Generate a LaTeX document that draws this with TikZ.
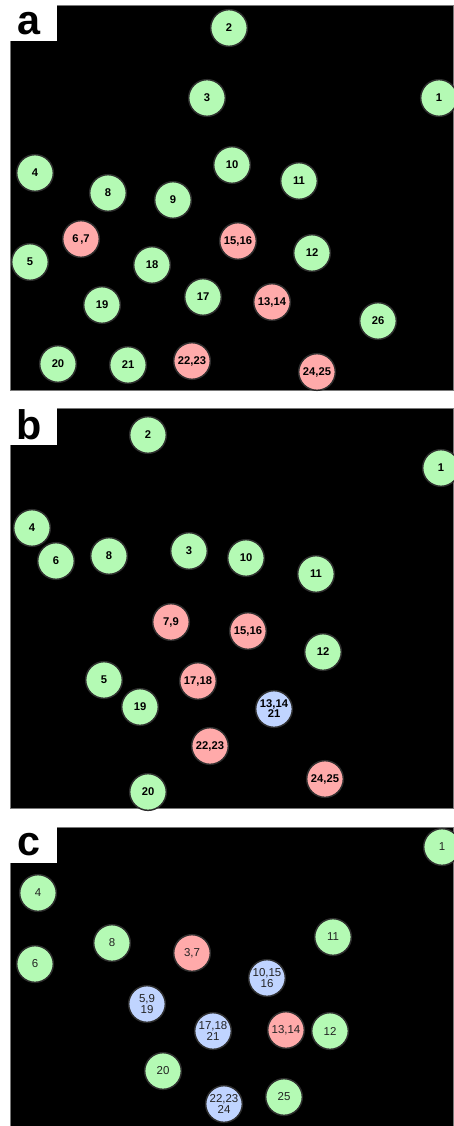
\documentclass[tikz,border=0pt]{standalone}
\usepackage{fontspec}
\setmainfont{Liberation Sans}
\definecolor{lgreen}{RGB}{180,250,180}
\definecolor{lpink}{RGB}{255,170,170}
\definecolor{lblue}{RGB}{192,212,255}
\definecolor{ring}{RGB}{45,45,45}
\tikzset{every picture/.style={line width=0.75pt}}
\tikzset{
  panel/.style={fill=black, draw={rgb,255:red,120;green,120;blue,120}, line width=0.6pt},
  tagbox/.style={fill=white, draw=none},
  tag/.style={anchor=center, inner sep=0pt, font=\fontsize{31}{31}\bfseries},
  spot/.style={circle, draw=ring, line width=1.1pt, minimum size=27.5pt, inner sep=0pt,
    align=center, font=\fontsize{8.4}{7.6}\bfseries},
  gspot/.style={spot, fill=lgreen},
  pspot/.style={spot, fill=lpink},
  bspot/.style={spot, fill=lblue},
  cspot/.style={font=\fontsize{8.6}{8.8}\selectfont, text={rgb,255:red,35;green,35;blue,35}}
}

\begin{document}
\begin{tikzpicture}[x=0.75pt,y=0.75pt,yscale=-1,xscale=1]
\useasboundingbox (0,0) rectangle (453,1126);

% Panel a
\draw [panel] (10,5) rectangle (453,390);
\fill [tagbox] (10,5) rectangle (57,41);
\node [tag] (la) at (29,24) {a};

\node [gspot] (a2) at (229,28) {2};
\node [gspot] (a3) at (207,98) {3};
\node [gspot] (a1) at (439,98) {1};
\node [gspot] (a4) at (35,173) {4};
\node [gspot] (a10) at (232,165) {10};
\node [gspot] (a11) at (299,181) {11};
\node [gspot] (a8) at (108,193) {8};
\node [gspot] (a9) at (173,200) {9};
\node [pspot] (a67) at (81,239) {6\,,7};
\node [pspot] (a1516) at (238,241) {15,16};
\node [gspot] (a5) at (30,262) {5};
\node [gspot] (a18) at (152,265) {18};
\node [gspot] (a12) at (312,253) {12};
\node [gspot] (a17) at (203,297) {17};
\node [pspot] (a1314) at (272,302) {13,14};
\node [gspot] (a19) at (102,305) {19};
\node [gspot] (a26) at (378,321) {26};
\node [gspot] (a20) at (58,364) {20};
\node [gspot] (a21) at (128,365) {21};
\node [pspot] (a2223) at (192,361) {22,23};
\node [pspot] (a2425) at (317,372) {24,25};

% Panel b
\draw [panel] (10,408) rectangle (453,808);
\fill [tagbox] (10,408) rectangle (57,445);
\node [tag] (lb) at (29,425) {b};

\node [gspot] (b2) at (148,435) {2};
\node [gspot] (b1) at (441,468) {1};
\node [gspot] (b4) at (32,528) {4};
\node [gspot] (b6) at (56,561) {6};
\node [gspot] (b8) at (109,556) {8};
\node [gspot] (b3) at (189,551) {3};
\node [gspot] (b10) at (246,558) {10};
\node [gspot] (b11) at (316,574) {11};
\node [pspot] (b79) at (171,622) {7,9};
\node [pspot] (b1516) at (248,631) {15,16};
\node [gspot] (b12) at (323,652) {12};
\node [gspot] (b5) at (104,680) {5};
\node [pspot] (b1718) at (198,681) {17,18};
\node [gspot] (b19) at (140,707) {19};
\node [bspot] (b131421) at (274,709) {13,14\\21};
\node [pspot] (b2223) at (210,746) {22,23};
\node [pspot] (b2425) at (325,779) {24,25};
\node [gspot] (b20) at (148,792) {20};

% Panel c
\draw [panel] (10,827) rectangle (453,1126);
\fill [tagbox] (10,827) rectangle (57,863);
\node [tag] (lc) at (29,845) {c};

\node [gspot,cspot] (c1) at (442,847) {1};
\node [gspot,cspot] (c4) at (38,893) {4};
\node [gspot,cspot] (c8) at (112,943) {8};
\node [pspot,cspot] (c37) at (192,953) {3,7};
\node [gspot,cspot] (c6) at (35,964) {6};
\node [gspot,cspot] (c11) at (333,937) {11};
\node [bspot,cspot] (c101516) at (267,978) {10,15\\16};
\node [bspot,cspot] (c5919) at (147,1004) {5,9\\19};
\node [bspot,cspot] (c171821) at (213,1031) {17,18\\21};
\node [pspot,cspot] (c1314) at (286,1030) {13,14};
\node [gspot,cspot] (c12) at (330,1031) {12};
\node [gspot,cspot] (c20) at (163,1071) {20};
\node [gspot,cspot] (c25) at (284,1097) {25};
\node [bspot,cspot] (c222324) at (224,1104) {22,23\\24};

\end{tikzpicture}
\end{document}
